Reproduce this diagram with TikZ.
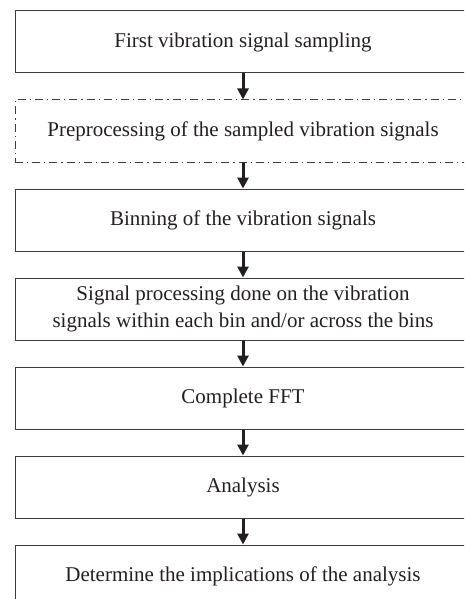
\documentclass[tikz,border=0pt]{standalone}
\usepackage{fontspec}
\setmainfont{Liberation Serif}
\usetikzlibrary{positioning}
\usetikzlibrary{arrows.meta}
\definecolor{boxline}{RGB}{60,60,60}
\definecolor{txt}{RGB}{35,31,32}

\tikzset{
  stepbox/.style={draw=boxline, line width=1pt, minimum width=456pt, minimum height=62pt,
    inner sep=0pt, text=txt, align=center, font=\fontsize{21}{27}\selectfont},
  prebox/.style={stepbox, dash pattern=on 8pt off 4pt on 1.2pt off 4pt},
  flow/.style={-{Triangle[length=11pt,width=11pt]}, line width=3pt, draw=txt}
}

\begin{document}
\begin{tikzpicture}[x=1pt,y=1pt, node distance=26pt]
\useasboundingbox (0,0) rectangle (464,-599);
\clip (0,0) rectangle (464,-599);

\node[stepbox] (sampling) at (243,-42) {First vibration signal sampling};
\node[prebox, below=of sampling] (preproc) {Preprocessing of the sampled vibration signals};
\node[stepbox, below=of preproc] (binning) {Binning of the vibration signals};
\node[stepbox, below=of binning] (sigproc) {Signal processing done on the vibration\\signals within each bin and/or across the bins};
\node[stepbox, below=of sigproc] (fft) {Complete FFT};
\node[stepbox, below=of fft] (analysis) {Analysis};
\node[stepbox, below=of analysis] (implic) {Determine the implications of the analysis};

\draw[flow] (sampling) -- (preproc);
\draw[flow] (preproc) -- (binning);
\draw[flow] (binning) -- (sigproc);
\draw[flow] (sigproc) -- (fft);
\draw[flow] (fft) -- (analysis);
\draw[flow] (analysis) -- (implic);

\end{tikzpicture}
\end{document}
